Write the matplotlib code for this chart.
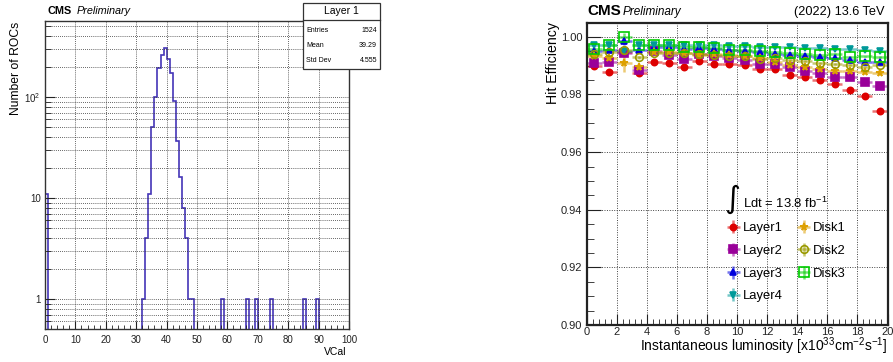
import numpy as np
import matplotlib
matplotlib.use('Agg')
from matplotlib import pyplot as plt
from matplotlib.patches import Rectangle
from matplotlib.lines import Line2D
from matplotlib.ticker import FixedLocator, MultipleLocator, NullFormatter, LogLocator

plt.rcParams['font.family'] = ['Liberation Sans', 'DejaVu Sans']
plt.rcParams['mathtext.fontset'] = 'custom'
plt.rcParams['mathtext.rm'] = 'Liberation Sans'
plt.rcParams['mathtext.it'] = 'Liberation Sans:italic'

# --- VCal threshold per ROC, 1-VCal bins, non-empty bins only
vcal_bins = [0, 32, 33, 34, 35, 36, 37, 38, 39, 40, 41, 42, 43, 44, 45, 46,
             47, 48, 58, 66, 69, 74, 85, 89]
roc_counts = [11, 1, 4, 11, 50, 100, 195, 262, 308, 236, 173, 92, 37, 16, 8, 4,
              1, 1, 1, 1, 1, 1, 1, 1]
stats_names = ['Entries', 'Mean', 'Std Dev']
stats_values = ['1524', '39.29', '4.555']

# --- hit efficiency vs instantaneous luminosity
lumi = [0.5, 1.5, 2.5, 3.5, 4.5, 5.5, 6.5, 7.5, 8.5, 9.5,
        10.5, 11.5, 12.5, 13.5, 14.5, 15.5, 16.5, 17.5, 18.5, 19.5]
layer1 = [0.9899, 0.9877, 0.9948, 0.9874, 0.9913, 0.9909, 0.9897, 0.9916, 0.9907, 0.9904,
          0.9901, 0.9887, 0.9887, 0.9867, 0.9860, 0.9851, 0.9838, 0.9816, 0.9795, 0.9741]
layer2 = [0.9909, 0.9911, 0.9944, 0.9885, 0.9951, 0.9938, 0.9924, 0.9942, 0.9932, 0.9928,
          0.9920, 0.9907, 0.9905, 0.9896, 0.9883, 0.9874, 0.9861, 0.9859, 0.9843, 0.9831]
layer3 = [0.9950, 0.9955, 0.9985, 0.9955, 0.9963, 0.9963, 0.9957, 0.9961, 0.9958, 0.9953,
          0.9951, 0.9947, 0.9941, 0.9938, 0.9932, 0.9930, 0.9925, 0.9920, 0.9914, 0.9914]
layer4 = [0.9973, 0.9972, 0.9950, 0.9970, 0.9972, 0.9972, 0.9970, 0.9972, 0.9970, 0.9969,
          0.9969, 0.9965, 0.9964, 0.9964, 0.9961, 0.9961, 0.9958, 0.9957, 0.9954, 0.9951]
disk1 = [0.9935, 0.9925, 0.9909, 0.9897, 0.9946, 0.9946, 0.9943, 0.9938, 0.9940, 0.9938,
         0.9932, 0.9926, 0.9914, 0.9902, 0.9897, 0.9889, 0.9882, 0.9880, 0.9877, 0.9874]
disk2 = [0.9941, 0.9948, 0.9955, 0.9929, 0.9943, 0.9943, 0.9943, 0.9940, 0.9938, 0.9934,
         0.9932, 0.9924, 0.9926, 0.9920, 0.9917, 0.9909, 0.9905, 0.9903, 0.9897, 0.9903]
disk3 = [0.9958, 0.9970, 1.0000, 0.9972, 0.9970, 0.9970, 0.9963, 0.9965, 0.9961, 0.9955,
         0.9955, 0.9951, 0.9947, 0.9943, 0.9940, 0.9938, 0.9941, 0.9930, 0.9932, 0.9930]
eff_err = [0.0005, 0.0004, 0.0012, 0.0006, 0.0003, 0.0003, 0.0003, 0.0003, 0.0003, 0.0003,
           0.0003, 0.0003, 0.0003, 0.0003, 0.0003, 0.0003, 0.0003, 0.0003, 0.0003, 0.0004]
disk1_err = [0.0006, 0.0006, 0.0030, 0.0010, 0.0004, 0.0004, 0.0004, 0.0004, 0.0004, 0.0004,
             0.0004, 0.0004, 0.0004, 0.0004, 0.0004, 0.0004, 0.0004, 0.0004, 0.0004, 0.0004]
int_lumi = 13.8

W, H = 893, 362
fig = plt.figure(figsize=(W / 100, H / 100), dpi=100)


def px(x, y):
    return x / W, 1 - y / H


# ---------------- left: VCal histogram ----------------
ax1 = fig.add_axes([45 / W, 1 - 329 / H, 304 / W, 308 / H])
counts = np.zeros(100)
counts[vcal_bins] = roc_counts
edges = np.arange(0, 101)
ax1.set_yscale('log')
ax1.stairs(np.where(counts > 0, counts, 1e-3), edges, baseline=1e-3,
           color='#4435b8', lw=1.2)
ax1.set_xlim(0, 100)
ax1.set_ylim(0.505, 565)
ax1.xaxis.set_major_locator(MultipleLocator(10))
ax1.xaxis.set_minor_locator(MultipleLocator(2))
ax1.yaxis.set_major_locator(FixedLocator([1, 10, 100]))
ax1.yaxis.set_major_formatter(matplotlib.ticker.FixedFormatter(['1', '10', r'$10^2$']))
ax1.yaxis.set_minor_locator(LogLocator(base=10, subs=np.arange(2, 10)))
ax1.yaxis.set_minor_formatter(NullFormatter())
ax1.tick_params(which='both', direction='in', labelsize=7, colors='#222222')
ax1.tick_params(axis='x', which='major', length=6, pad=4)
ax1.tick_params(axis='x', which='minor', length=3)
ax1.tick_params(axis='y', which='major', length=7, pad=3)
ax1.tick_params(axis='y', which='minor', length=4)
ax1.grid(True, which='major', axis='x', ls=(0, (1, 1.5)), lw=0.6, color='#333333')
ax1.grid(True, which='both', axis='y', ls=(0, (1, 1.5)), lw=0.6, color='#333333')
for s in ax1.spines.values():
    s.set_linewidth(1.0)
    s.set_color('#333333')

fig.text(*px(48, 11), 'CMS', fontsize=7.8, fontweight='bold', va='center')
fig.text(*px(77, 11), 'Preliminary', fontsize=7.8, style='italic', va='center')
fig.text(*px(16, 22), 'Number of ROCs', rotation=90, fontsize=8.7, ha='center', va='top')
fig.text(*px(346, 352), 'VCal', fontsize=7.5, ha='right', va='center')

# stats box
bx0, bx1, by0, by1, byt = 303, 380, 3, 69, 20
fig.patches.append(Rectangle(px(bx0, by1), (bx1 - bx0) / W, (by1 - by0) / H,
                             transform=fig.transFigure, fc='white', ec='#333333', lw=0.9, zorder=5))
fig.lines.append(Line2D([bx0 / W, bx1 / W], [1 - byt / H] * 2, transform=fig.transFigure,
                        color='#333333', lw=0.9, zorder=6))
fig.text(*px((bx0 + bx1) / 2, 11.5), 'Layer 1', fontsize=7.5, ha='center', va='center', zorder=7)
for i, (n, v) in enumerate(zip(stats_names, stats_values)):
    yy = 31 + i * 14.5
    fig.text(*px(bx0 + 3, yy), n, fontsize=5, ha='left', va='center', zorder=7)
    fig.text(*px(bx1 - 3, yy), v, fontsize=5, ha='right', va='center', zorder=7)

# ---------------- right: hit efficiency ----------------
ax2 = fig.add_axes([586.5 / W, 1 - 325 / H, 301 / W, 302 / H])
series = [
    (layer1, eff_err, 'Layer1', '#dd0000', 'o', 4.5, True),
    (layer2, eff_err, 'Layer2', '#990099', 's', 5.5, True),
    (layer3, eff_err, 'Layer3', '#0000dd', '^', 4.0, True),
    (layer4, eff_err, 'Layer4', '#009999', 'v', 4.0, True),
    (disk1, disk1_err, 'Disk1', '#dda000', '*', 5.5, True),
    (disk2, eff_err, 'Disk2', '#999900', 'o', 5.5, False),
    (disk3, eff_err, 'Disk3', '#00cc00', 's', 6.5, False),
]
handles = []
for vals, err, name, col, mk, ms, filled in series:
    ecol = matplotlib.colors.to_rgba(col, 0.55)
    h = ax2.errorbar(lumi, vals, xerr=0.5, yerr=err, fmt=mk, ms=ms, color=col,
                     mfc=col if filled else 'none', mec=col, mew=1.2,
                     ecolor=ecol, elinewidth=1.8, capsize=0, label=name)
    handles.append(h)
ax2.set_xlim(0, 20)
ax2.set_ylim(0.90, 1.0048)
ax2.xaxis.set_major_locator(MultipleLocator(2))
ax2.xaxis.set_minor_locator(MultipleLocator(0.4))
ax2.yaxis.set_major_locator(MultipleLocator(0.02))
ax2.yaxis.set_minor_locator(MultipleLocator(0.005))
ax2.yaxis.set_major_formatter(matplotlib.ticker.FormatStrFormatter('%.2f'))
ax2.tick_params(which='both', direction='in', labelsize=8, colors='#222222')
ax2.tick_params(axis='x', which='major', length=8, pad=1.5)
ax2.tick_params(axis='x', which='minor', length=4)
ax2.tick_params(axis='y', which='major', length=10, pad=3)
ax2.tick_params(axis='y', which='minor', length=5)
ax2.grid(True, which='major', ls=(0, (1, 1.5)), lw=0.7, color='#444444')
for s in ax2.spines.values():
    s.set_linewidth(1.6)
    s.set_color('#222222')

ax2.legend(handles, [h.get_label() for h in handles], ncol=2, loc='upper left',
           bbox_to_anchor=(0.468, 0.34), frameon=False, fontsize=9.4,
           handlelength=0.9, handletextpad=0.25, columnspacing=1.2,
           labelspacing=0.8, borderpad=0, borderaxespad=0)

fig.text(*px(732, 199.5), '\u222b', fontsize=22, family='DejaVu Sans', ha='center', va='center')
fig.text(*px(743, 203), 'Ldt = %.1f fb$^{-1}$' % int_lumi, fontsize=9.4, ha='left', va='center')

fig.text(*px(587, 11), 'CMS', fontsize=11, fontweight='bold', va='center')
fig.text(*px(623, 11.5), 'Preliminary', fontsize=8.5, style='italic', va='center')
fig.text(*px(885, 11.5), '(2022) 13.6 TeV', fontsize=9.2, ha='right', va='center')
fig.text(*px(553, 22), 'Hit Efficiency', rotation=90, fontsize=10.2, ha='center', va='top')
fig.text(*px(888, 346.5), r'Instantaneous luminosity [x10$^{33}$cm$^{-2}$s$^{-1}$]',
         fontsize=10, ha='right', va='center')

fig.savefig('out.png', dpi=100)
